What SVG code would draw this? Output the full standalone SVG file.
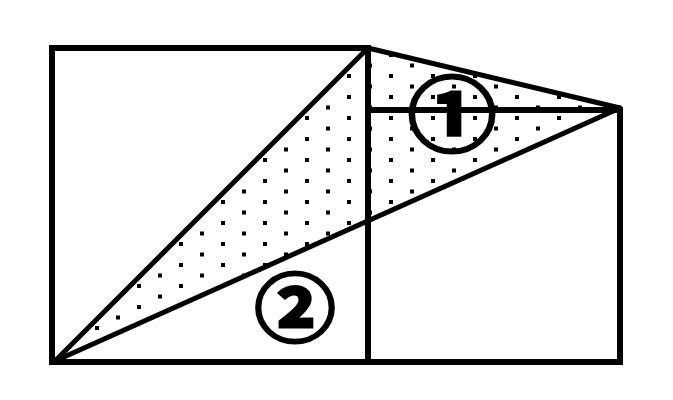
<svg xmlns="http://www.w3.org/2000/svg" width="673" height="400" viewBox="0 0 673 400">
  <style>
    .edge { stroke: #000; stroke-width: 6; fill: none; stroke-linecap: square; }
    .diag { stroke: #000; stroke-width: 5; fill: none; stroke-linecap: round; }
    .lbl { font-family: "Noto Sans CJK JP", "DejaVu Sans", sans-serif; font-weight: 700; fill: #000; stroke: #000; stroke-width: 3; text-anchor: middle; }
  </style>
  <defs>
    <pattern id="dots" patternUnits="userSpaceOnUse" x="389" y="74" width="42" height="21">
      <rect x="0" y="0" width="4" height="4" fill="#000"/>
      <rect x="21" y="10.5" width="4" height="4" fill="#000"/>
    </pattern>
  </defs>
  <rect width="673" height="400" fill="#fff"/>
  <g id="shaded">
    <polygon points="368,48 55,361 620,108" fill="url(#dots)"/>
  </g>
  <g id="squareLarge">
    <rect class="edge" x="52" y="48" width="316" height="314"/>
  </g>
  <g id="squareSmall">
    <rect class="edge" x="368" y="110" width="252" height="252"/>
  </g>
  <g id="connectors">
    <line class="diag" x1="55" y1="361" x2="368" y2="48"/>
    <line class="diag" x1="55" y1="361" x2="620" y2="108"/>
    <line class="diag" x1="368" y1="48" x2="620" y2="108"/>
  </g>
  <g id="label1">
    <text class="lbl" transform="translate(452,145) scale(1.08,1)" font-size="82">①</text>
  </g>
  <g id="label2">
    <text class="lbl" transform="translate(295,336) scale(1.08,1)" font-size="75">②</text>
  </g>
</svg>
